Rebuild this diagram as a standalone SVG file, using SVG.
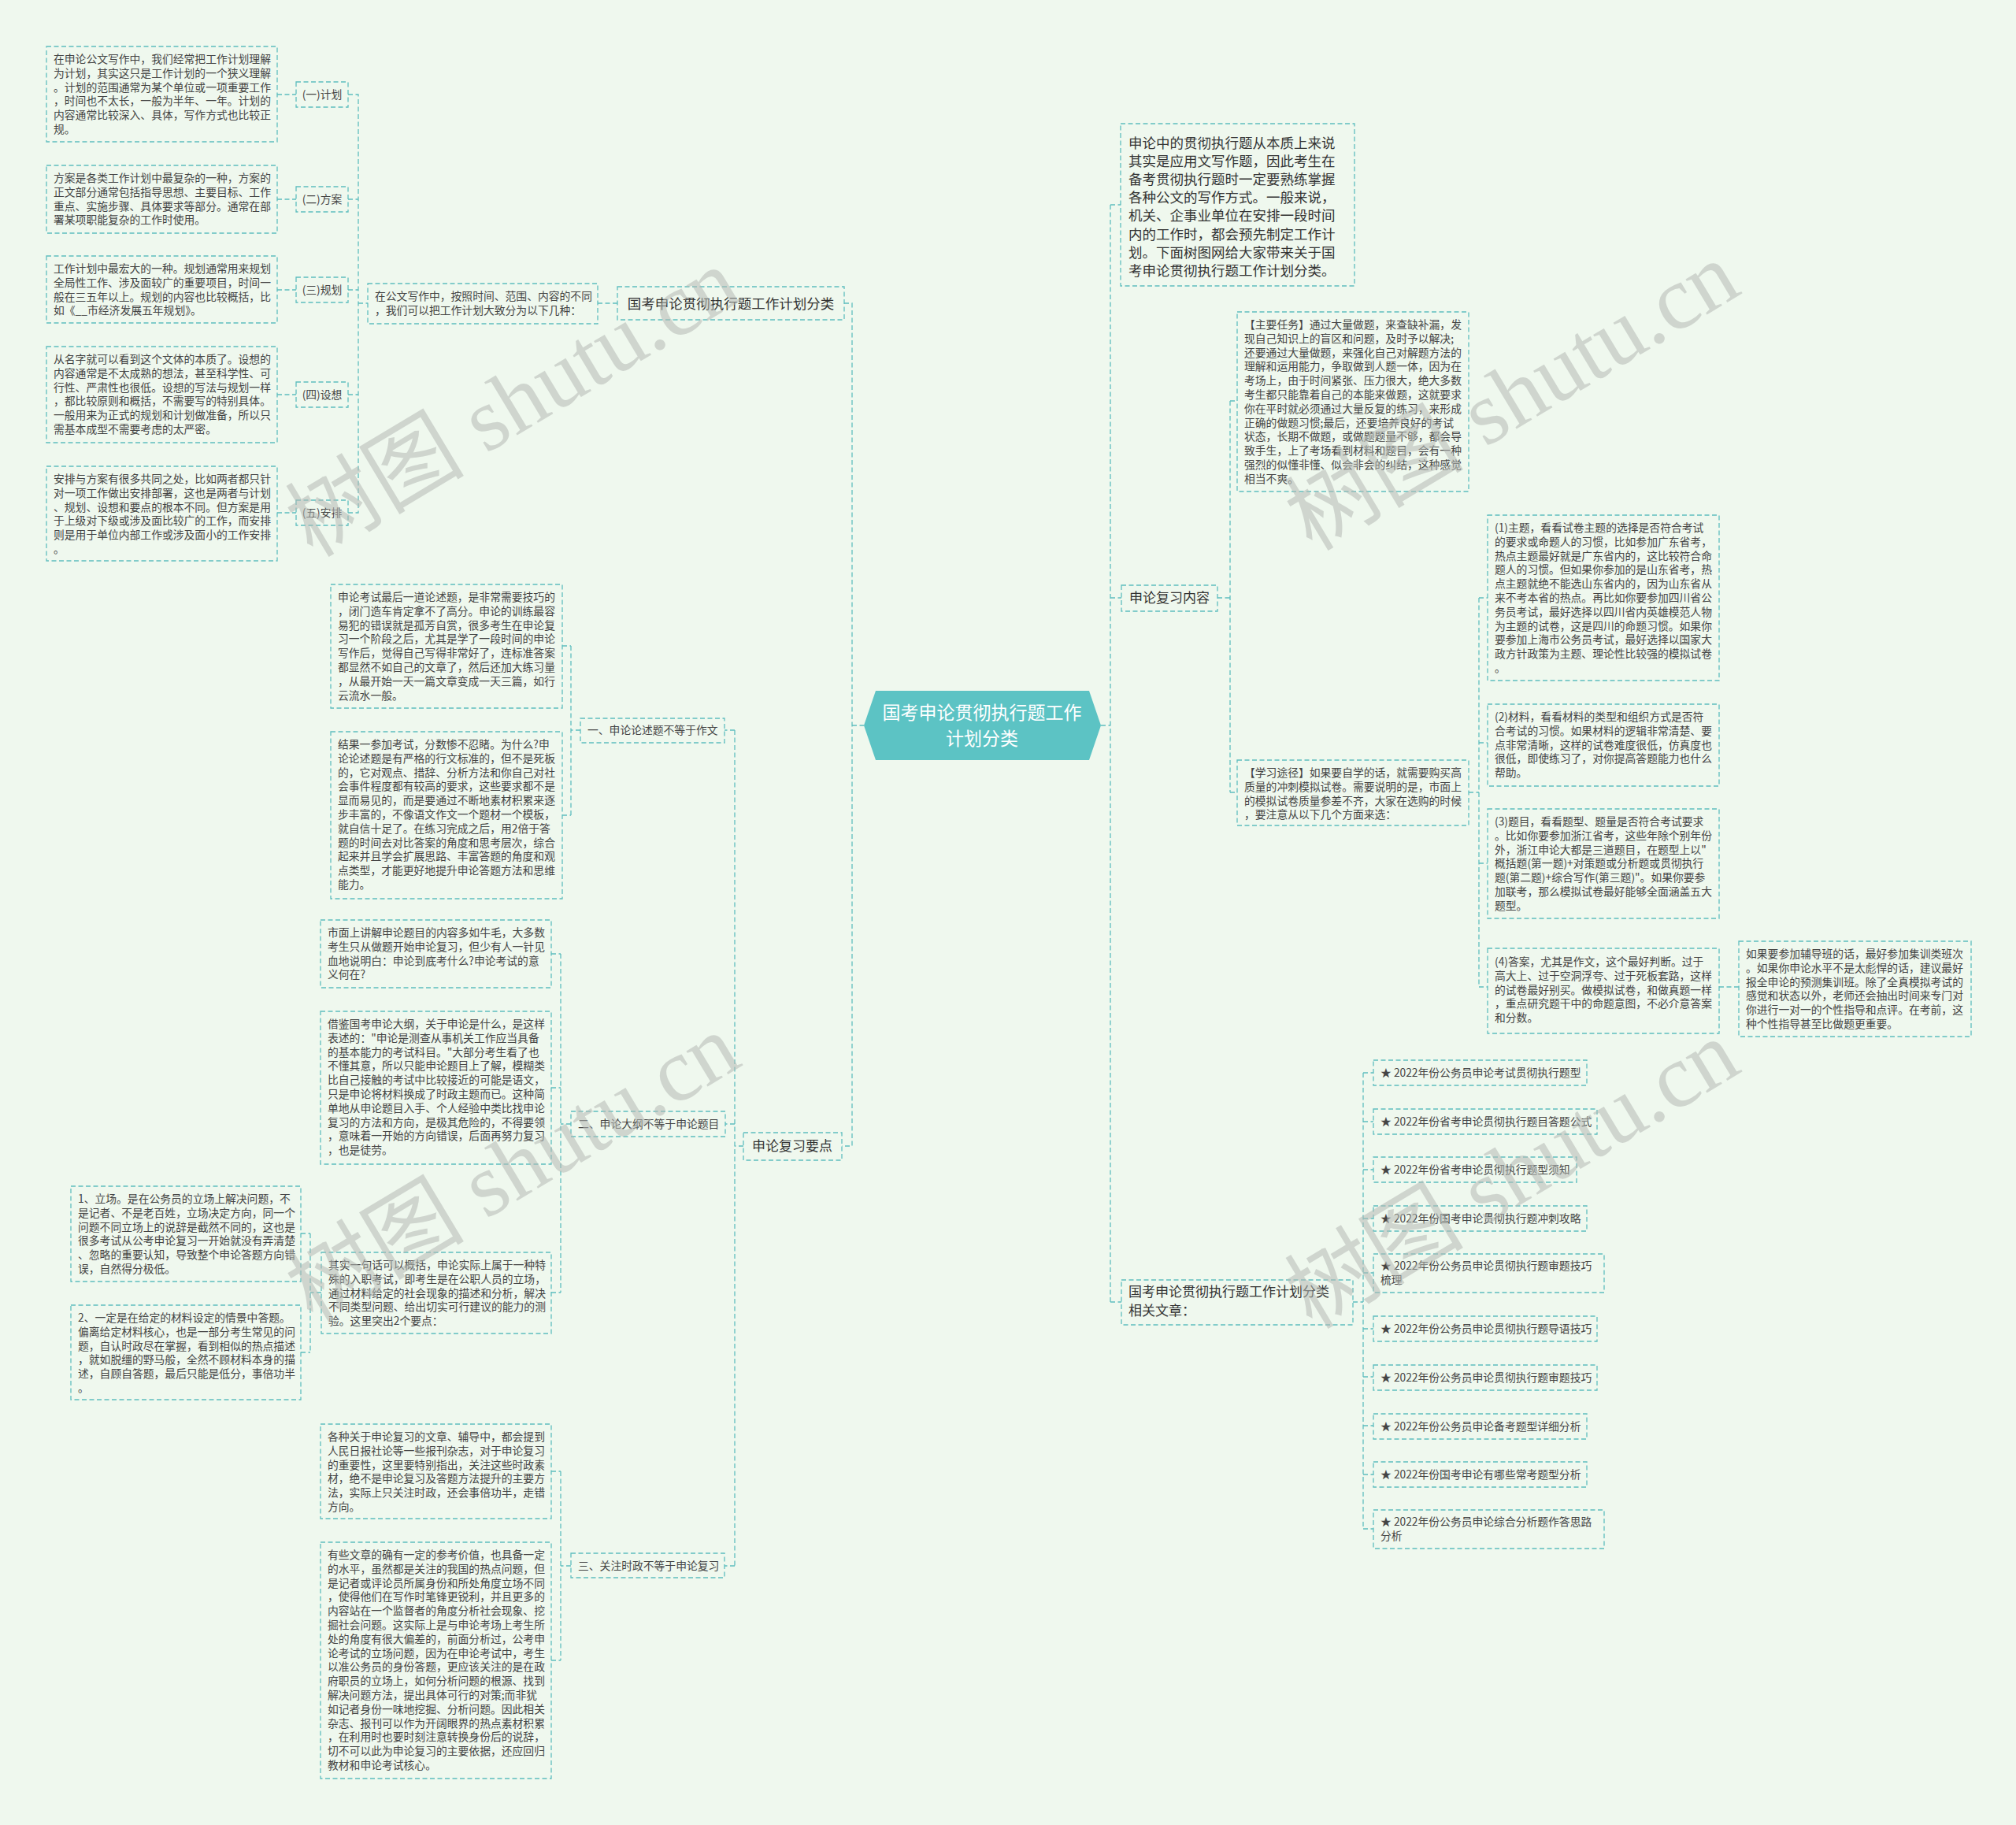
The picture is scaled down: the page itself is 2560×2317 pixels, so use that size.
<svg xmlns="http://www.w3.org/2000/svg" width="2560" height="2317" viewBox="0 0 2560 2317">
<style>
.bx{fill:none;stroke:#5fbdbf;stroke-width:1.3;stroke-dasharray:6 3.5}
.cn{fill:none;stroke:#5fbdbf;stroke-width:1.3;stroke-dasharray:6 3.5}
.t{font-family:"Noto Sans CJK SC","Noto Sans",sans-serif;font-size:13.8px;fill:#444}
.b{font-family:"Noto Sans CJK SC","Noto Sans",sans-serif;font-size:17.5px;fill:#333}
.m{text-anchor:middle}
.wm{font-family:"Liberation Serif","Noto Sans CJK SC",serif;font-size:114px;fill:#b5bab5;opacity:0.55;text-anchor:middle}
</style>
<rect width="2560" height="2317" fill="#eff8ee"/>

<g id="connectors">
<path class="cn" d="M352,120H376M352,253H376M352,368H376M352,501H376M352,651H376"/>
<path class="cn" d="M442,120H455V651H442M442,253H455M442,368H455M442,501H455M455,385H467"/>
<path class="cn" d="M759,385H784"/>
<path class="cn" d="M1072,385H1082V1455H1069M1082,921H1097"/>
<path class="cn" d="M944,1455H933M933,927V1988M933,927H920M933,1427H921M933,1988H920"/>
<path class="cn" d="M737,927H725M725,820V1035M714,820H725M714,1035H725"/>
<path class="cn" d="M725,1427H712M712,1211V1641M700,1211H712M700,1381H712M700,1641H712"/>
<path class="cn" d="M408,1641H394M394,1566V1717M382,1566H394M382,1717H394"/>
<path class="cn" d="M725,1988H712M712,1868V2108M700,1868H712M700,2108H712"/>
<path class="cn" d="M1398,921H1410M1410,260V1653M1410,260H1423M1410,759H1424M1410,1653H1424"/>
<path class="cn" d="M1546,759H1562M1562,509V1006M1562,509H1571M1562,1006H1571"/>
<path class="cn" d="M1865,1006H1878M1878,759V1253M1878,759H1889M1878,943H1889M1878,1096H1889M1878,1253H1889"/>
<path class="cn" d="M2183,1253H2208"/>
<path class="cn" d="M1718,1653H1731M1731,1362V1941M1731,1362H1744M1731,1424H1744M1731,1485H1744M1731,1547H1744M1731,1616H1744M1731,1687H1744M1731,1748H1744M1731,1810H1744M1731,1872H1744M1731,1941H1744"/>
</g>

<g id="center">
<polygon points="1097,921 1112,877 1383,877 1398,921 1383,965 1112,965" fill="#5cc3c4"/>
<text class="m" x="1247" y="913" style="font-family:'Noto Sans CJK SC',sans-serif;font-size:23px;fill:#fff">国考申论贯彻执行题工作</text>
<text class="m" x="1247" y="946" style="font-family:'Noto Sans CJK SC',sans-serif;font-size:23px;fill:#fff">计划分类</text>
</g>

<g id="n-fenlei">
<rect class="bx" x="784" y="364" width="288" height="42"/>
<text class="b m" x="928" y="392">国考申论贯彻执行题工作计划分类</text>
</g>

<g id="n-gongwen">
<rect class="bx" x="467" y="360" width="292" height="51"/>
<text class="t" x="476" y="381">在公文写作中，按照时间、范围、内容的不同<tspan x="476" dy="17.8">，我们可以把工作计划大致分为以下几种：</tspan></text>
</g>

<g id="l1"><rect class="bx" x="376" y="104" width="66" height="32"/><text class="t m" x="409" y="125">(一)计划</text></g>
<g id="l2"><rect class="bx" x="376" y="237" width="66" height="32"/><text class="t m" x="409" y="258">(二)方案</text></g>
<g id="l3"><rect class="bx" x="376" y="352" width="66" height="32"/><text class="t m" x="409" y="373">(三)规划</text></g>
<g id="l4"><rect class="bx" x="376" y="485" width="66" height="32"/><text class="t m" x="409" y="506">(四)设想</text></g>
<g id="l5"><rect class="bx" x="376" y="635" width="66" height="32"/><text class="t m" x="409" y="656">(五)安排</text></g>

<g id="bA">
<rect class="bx" x="59" y="59" width="293" height="121"/>
<text class="t" x="68" y="80">在申论公文写作中，我们经常把工作计划理解<tspan x="68" dy="17.8">为计划，其实这只是工作计划的一个狭义理解</tspan><tspan x="68" dy="17.8">。计划的范围通常为某个单位或一项重要工作</tspan><tspan x="68" dy="17.8">，时间也不太长，一般为半年、一年。计划的</tspan><tspan x="68" dy="17.8">内容通常比较深入、具体，写作方式也比较正</tspan><tspan x="68" dy="17.8">规。</tspan></text>
</g>
<g id="bB">
<rect class="bx" x="59" y="210" width="293" height="86"/>
<text class="t" x="68" y="231">方案是各类工作计划中最复杂的一种，方案的<tspan x="68" dy="17.8">正文部分通常包括指导思想、主要目标、工作</tspan><tspan x="68" dy="17.8">重点、实施步骤、具体要求等部分。通常在部</tspan><tspan x="68" dy="17.8">署某项职能复杂的工作时使用。</tspan></text>
</g>
<g id="bC">
<rect class="bx" x="59" y="325" width="293" height="85"/>
<text class="t" x="68" y="346">工作计划中最宏大的一种。规划通常用来规划<tspan x="68" dy="17.8">全局性工作、涉及面较广的重要项目，时间一</tspan><tspan x="68" dy="17.8">般在三五年以上。规划的内容也比较概括，比</tspan><tspan x="68" dy="17.8">如《__市经济发展五年规划》。</tspan></text>
</g>
<g id="bD">
<rect class="bx" x="59" y="440" width="293" height="122"/>
<text class="t" x="68" y="461">从名字就可以看到这个文体的本质了。设想的<tspan x="68" dy="17.8">内容通常是不太成熟的想法，甚至科学性、可</tspan><tspan x="68" dy="17.8">行性、严肃性也很低。设想的写法与规划一样</tspan><tspan x="68" dy="17.8">，都比较原则和概括，不需要写的特别具体。</tspan><tspan x="68" dy="17.8">一般用来为正式的规划和计划做准备，所以只</tspan><tspan x="68" dy="17.8">需基本成型不需要考虑的太严密。</tspan></text>
</g>
<g id="bE">
<rect class="bx" x="59" y="592" width="293" height="120"/>
<text class="t" x="68" y="613">安排与方案有很多共同之处，比如两者都只针<tspan x="68" dy="17.8">对一项工作做出安排部署，这也是两者与计划</tspan><tspan x="68" dy="17.8">、规划、设想和要点的根本不同。但方案是用</tspan><tspan x="68" dy="17.8">于上级对下级或涉及面比较广的工作，而安排</tspan><tspan x="68" dy="17.8">则是用于单位内部工作或涉及面小的工作安排</tspan><tspan x="68" dy="17.8">。</tspan></text>
</g>

<g id="n-yaodian">
<rect class="bx" x="944" y="1438" width="125" height="35"/>
<text class="b m" x="1006" y="1461" style="font-size:17px">申论复习要点</text>
</g>
<g id="s1"><rect class="bx" x="737" y="912" width="183" height="31"/><text class="t" x="746" y="932">一、申论论述题不等于作文</text></g>
<g id="s2"><rect class="bx" x="725" y="1411" width="196" height="32"/><text class="t" x="734" y="1432">二、申论大纲不等于申论题目</text></g>
<g id="s3"><rect class="bx" x="725" y="1972" width="195" height="31"/><text class="t" x="734" y="1993">三、关注时政不等于申论复习</text></g>

<g id="bF">
<rect class="bx" x="420" y="742" width="294" height="157"/>
<text class="t" x="429" y="763">申论考试最后一道论述题，是非常需要技巧的<tspan x="429" dy="17.8">，闭门造车肯定拿不了高分。申论的训练最容</tspan><tspan x="429" dy="17.8">易犯的错误就是孤芳自赏，很多考生在申论复</tspan><tspan x="429" dy="17.8">习一个阶段之后，尤其是学了一段时间的申论</tspan><tspan x="429" dy="17.8">写作后，觉得自己写得非常好了，连标准答案</tspan><tspan x="429" dy="17.8">都显然不如自己的文章了，然后还加大练习量</tspan><tspan x="429" dy="17.8">，从最开始一天一篇文章变成一天三篇，如行</tspan><tspan x="429" dy="17.8">云流水一般。</tspan></text>
</g>
<g id="bG">
<rect class="bx" x="420" y="929" width="294" height="212"/>
<text class="t" x="429" y="950">结果一参加考试，分数惨不忍睹。为什么?申<tspan x="429" dy="17.8">论论述题是有严格的行文标准的，但不是死板</tspan><tspan x="429" dy="17.8">的，它对观点、措辞、分析方法和你自己对社</tspan><tspan x="429" dy="17.8">会事件程度都有较高的要求，这些要求都不是</tspan><tspan x="429" dy="17.8">显而易见的，而是要通过不断地素材积累来逐</tspan><tspan x="429" dy="17.8">步丰富的，不像语文作文一个题材一个模板，</tspan><tspan x="429" dy="17.8">就自信十足了。在练习完成之后，用2倍于答</tspan><tspan x="429" dy="17.8">题的时间去对比答案的角度和思考层次，综合</tspan><tspan x="429" dy="17.8">起来并且学会扩展思路、丰富答题的角度和观</tspan><tspan x="429" dy="17.8">点类型，才能更好地提升申论答题方法和思维</tspan><tspan x="429" dy="17.8">能力。</tspan></text>
</g>
<g id="bH">
<rect class="bx" x="407" y="1168" width="293" height="86"/>
<text class="t" x="416" y="1189">市面上讲解申论题目的内容多如牛毛，大多数<tspan x="416" dy="17.8">考生只从做题开始申论复习，但少有人一针见</tspan><tspan x="416" dy="17.8">血地说明白：申论到底考什么?申论考试的意</tspan><tspan x="416" dy="17.8">义何在?</tspan></text>
</g>
<g id="bI">
<rect class="bx" x="407" y="1284" width="293" height="194"/>
<text class="t" x="416" y="1305">借鉴国考申论大纲，关于申论是什么，是这样<tspan x="416" dy="17.8">表述的："申论是测查从事机关工作应当具备</tspan><tspan x="416" dy="17.8">的基本能力的考试科目。"大部分考生看了也</tspan><tspan x="416" dy="17.8">不懂其意，所以只能申论题目上了解，模糊类</tspan><tspan x="416" dy="17.8">比自己接触的考试中比较接近的可能是语文，</tspan><tspan x="416" dy="17.8">只是申论将材料换成了时政主题而已。这种简</tspan><tspan x="416" dy="17.8">单地从申论题目入手、个人经验中类比找申论</tspan><tspan x="416" dy="17.8">复习的方法和方向，是极其危险的，不得要领</tspan><tspan x="416" dy="17.8">，意味着一开始的方向错误，后面再努力复习</tspan><tspan x="416" dy="17.8">，也是徒劳。</tspan></text>
</g>
<g id="bL">
<rect class="bx" x="408" y="1590" width="292" height="103"/>
<text class="t" x="417" y="1611">其实一句话可以概括，申论实际上属于一种特<tspan x="417" dy="17.8">殊的入职考试，即考生是在公职人员的立场，</tspan><tspan x="417" dy="17.8">通过材料给定的社会现象的描述和分析，解决</tspan><tspan x="417" dy="17.8">不同类型问题、给出切实可行建议的能力的测</tspan><tspan x="417" dy="17.8">验。这里突出2个要点：</tspan></text>
</g>
<g id="bJ">
<rect class="bx" x="90" y="1506" width="292" height="121"/>
<text class="t" x="99" y="1527">1、立场。是在公务员的立场上解决问题，不<tspan x="99" dy="17.8">是记者、不是老百姓，立场决定方向，同一个</tspan><tspan x="99" dy="17.8">问题不同立场上的说辞是截然不同的，这也是</tspan><tspan x="99" dy="17.8">很多考试从公考申论复习一开始就没有弄清楚</tspan><tspan x="99" dy="17.8">、忽略的重要认知，导致整个申论答题方向错</tspan><tspan x="99" dy="17.8">误，自然得分极低。</tspan></text>
</g>
<g id="bK">
<rect class="bx" x="90" y="1657" width="292" height="120"/>
<text class="t" x="99" y="1678">2、一定是在给定的材料设定的情景中答题。<tspan x="99" dy="17.8">偏离给定材料核心，也是一部分考生常见的问</tspan><tspan x="99" dy="17.8">题，自认时政尽在掌握，看到相似的热点描述</tspan><tspan x="99" dy="17.8">，就如脱缰的野马般，全然不顾材料本身的描</tspan><tspan x="99" dy="17.8">述，自顾自答题，最后只能是低分，事倍功半</tspan><tspan x="99" dy="17.8">。</tspan></text>
</g>
<g id="bM">
<rect class="bx" x="407" y="1808" width="293" height="120"/>
<text class="t" x="416" y="1829">各种关于申论复习的文章、辅导中，都会提到<tspan x="416" dy="17.8">人民日报社论等一些报刊杂志，对于申论复习</tspan><tspan x="416" dy="17.8">的重要性，这里要特别指出，关注这些时政素</tspan><tspan x="416" dy="17.8">材，绝不是申论复习及答题方法提升的主要方</tspan><tspan x="416" dy="17.8">法，实际上只关注时政，还会事倍功半，走错</tspan><tspan x="416" dy="17.8">方向。</tspan></text>
</g>
<g id="bN">
<rect class="bx" x="407" y="1958" width="293" height="300"/>
<text class="t" x="416" y="1979">有些文章的确有一定的参考价值，也具备一定<tspan x="416" dy="17.8">的水平，虽然都是关注的我国的热点问题，但</tspan><tspan x="416" dy="17.8">是记者或评论员所属身份和所处角度立场不同</tspan><tspan x="416" dy="17.8">，使得他们在写作时笔锋更锐利，并且更多的</tspan><tspan x="416" dy="17.8">内容站在一个监督者的角度分析社会现象、挖</tspan><tspan x="416" dy="17.8">掘社会问题。这实际上是与申论考场上考生所</tspan><tspan x="416" dy="17.8">处的角度有很大偏差的，前面分析过，公考申</tspan><tspan x="416" dy="17.8">论考试的立场问题，因为在申论考试中，考生</tspan><tspan x="416" dy="17.8">以准公务员的身份答题，更应该关注的是在政</tspan><tspan x="416" dy="17.8">府职员的立场上，如何分析问题的根源、找到</tspan><tspan x="416" dy="17.8">解决问题方法，提出具体可行的对策;而非犹</tspan><tspan x="416" dy="17.8">如记者身份一味地挖掘、分析问题。因此相关</tspan><tspan x="416" dy="17.8">杂志、报刊可以作为开阔眼界的热点素材积累</tspan><tspan x="416" dy="17.8">，在利用时也要时刻注意转换身份后的说辞，</tspan><tspan x="416" dy="17.8">切不可以此为申论复习的主要依据，还应回归</tspan><tspan x="416" dy="17.8">教材和申论考试核心。</tspan></text>
</g>

<g id="n-intro">
<rect class="bx" x="1423" y="157" width="297" height="206"/>
<text class="b" x="1433" y="188">申论中的贯彻执行题从本质上来说<tspan x="1433" dy="23.1">其实是应用文写作题，因此考生在</tspan><tspan x="1433" dy="23.1">备考贯彻执行题时一定要熟练掌握</tspan><tspan x="1433" dy="23.1">各种公文的写作方式。一般来说，</tspan><tspan x="1433" dy="23.1">机关、企事业单位在安排一段时间</tspan><tspan x="1433" dy="23.1">内的工作时，都会预先制定工作计</tspan><tspan x="1433" dy="23.1">划。下面树图网给大家带来关于国</tspan><tspan x="1433" dy="23.1">考申论贯彻执行题工作计划分类。</tspan></text>
</g>
<g id="n-neirong">
<rect class="bx" x="1424" y="743" width="122" height="33"/>
<text class="b m" x="1485" y="765" style="font-size:17px">申论复习内容</text>
</g>
<g id="bRW">
<rect class="bx" x="1571" y="396" width="294" height="228"/>
<text class="t" x="1580" y="417">【主要任务】通过大量做题，来查缺补漏，发<tspan x="1580" dy="17.8">现自己知识上的盲区和问题，及时予以解决;</tspan><tspan x="1580" dy="17.8">还要通过大量做题，来强化自己对解题方法的</tspan><tspan x="1580" dy="17.8">理解和运用能力，争取做到人题一体，因为在</tspan><tspan x="1580" dy="17.8">考场上，由于时间紧张、压力很大，绝大多数</tspan><tspan x="1580" dy="17.8">考生都只能靠着自己的本能来做题，这就要求</tspan><tspan x="1580" dy="17.8">你在平时就必须通过大量反复的练习，来形成</tspan><tspan x="1580" dy="17.8">正确的做题习惯;最后，还要培养良好的考试</tspan><tspan x="1580" dy="17.8">状态，长期不做题，或做题题量不够，都会导</tspan><tspan x="1580" dy="17.8">致手生，上了考场看到材料和题目，会有一种</tspan><tspan x="1580" dy="17.8">强烈的似懂非懂、似会非会的纠结，这种感觉</tspan><tspan x="1580" dy="17.8">相当不爽。</tspan></text>
</g>
<g id="bTJ">
<rect class="bx" x="1571" y="965" width="294" height="83"/>
<text class="t" x="1580" y="986">【学习途径】如果要自学的话，就需要购买高<tspan x="1580" dy="17.8">质量的冲刺模拟试卷。需要说明的是，市面上</tspan><tspan x="1580" dy="17.8">的模拟试卷质量参差不齐，大家在选购的时候</tspan><tspan x="1580" dy="17.8">，要注意从以下几个方面来选：</tspan></text>
</g>
<g id="bP1">
<rect class="bx" x="1889" y="654" width="294" height="210"/>
<text class="t" x="1898" y="675">(1)主题，看看试卷主题的选择是否符合考试<tspan x="1898" dy="17.8">的要求或命题人的习惯，比如参加广东省考，</tspan><tspan x="1898" dy="17.8">热点主题最好就是广东省内的，这比较符合命</tspan><tspan x="1898" dy="17.8">题人的习惯。但如果你参加的是山东省考，热</tspan><tspan x="1898" dy="17.8">点主题就绝不能选山东省内的，因为山东省从</tspan><tspan x="1898" dy="17.8">来不考本省的热点。再比如你要参加四川省公</tspan><tspan x="1898" dy="17.8">务员考试，最好选择以四川省内英雄模范人物</tspan><tspan x="1898" dy="17.8">为主题的试卷，这是四川的命题习惯。如果你</tspan><tspan x="1898" dy="17.8">要参加上海市公务员考试，最好选择以国家大</tspan><tspan x="1898" dy="17.8">政方针政策为主题、理论性比较强的模拟试卷</tspan><tspan x="1898" dy="17.8">。</tspan></text>
</g>
<g id="bP2">
<rect class="bx" x="1889" y="894" width="294" height="104"/>
<text class="t" x="1898" y="915">(2)材料，看看材料的类型和组织方式是否符<tspan x="1898" dy="17.8">合考试的习惯。如果材料的逻辑非常清楚、要</tspan><tspan x="1898" dy="17.8">点非常清晰，这样的试卷难度很低，仿真度也</tspan><tspan x="1898" dy="17.8">很低，即使练习了，对你提高答题能力也什么</tspan><tspan x="1898" dy="17.8">帮助。</tspan></text>
</g>
<g id="bP3">
<rect class="bx" x="1889" y="1027" width="294" height="139"/>
<text class="t" x="1898" y="1048">(3)题目，看看题型、题量是否符合考试要求<tspan x="1898" dy="17.8">。比如你要参加浙江省考，这些年除个别年份</tspan><tspan x="1898" dy="17.8">外，浙江申论大都是三道题目，在题型上以"</tspan><tspan x="1898" dy="17.8">概括题(第一题)+对策题或分析题或贯彻执行</tspan><tspan x="1898" dy="17.8">题(第二题)+综合写作(第三题)"。如果你要参</tspan><tspan x="1898" dy="17.8">加联考，那么模拟试卷最好能够全面涵盖五大</tspan><tspan x="1898" dy="17.8">题型。</tspan></text>
</g>
<g id="bP4">
<rect class="bx" x="1889" y="1204" width="294" height="108"/>
<text class="t" x="1898" y="1226">(4)答案，尤其是作文，这个最好判断。过于<tspan x="1898" dy="17.8">高大上、过于空洞浮夸、过于死板套路，这样</tspan><tspan x="1898" dy="17.8">的试卷最好别买。做模拟试卷，和做真题一样</tspan><tspan x="1898" dy="17.8">，重点研究题干中的命题意图，不必介意答案</tspan><tspan x="1898" dy="17.8">和分数。</tspan></text>
</g>
<g id="bFD">
<rect class="bx" x="2208" y="1195" width="295" height="121"/>
<text class="t" x="2217" y="1216">如果要参加辅导班的话，最好参加集训类班次<tspan x="2217" dy="17.8">。如果你申论水平不是太彪悍的话，建议最好</tspan><tspan x="2217" dy="17.8">报全申论的预测集训班。除了全真模拟考试的</tspan><tspan x="2217" dy="17.8">感觉和状态以外，老师还会抽出时间来专门对</tspan><tspan x="2217" dy="17.8">你进行一对一的个性指导和点评。在考前，这</tspan><tspan x="2217" dy="17.8">种个性指导甚至比做题更重要。</tspan></text>
</g>

<g id="n-xiangguan">
<rect class="bx" x="1424" y="1625" width="294" height="57"/>
<text class="b" x="1433" y="1646" style="font-size:17px">国考申论贯彻执行题工作计划分类<tspan x="1433" dy="24">相关文章：</tspan></text>
</g>
<g id="li1"><rect class="bx" x="1744" y="1346" width="271" height="32"/><text class="t" x="1753" y="1367">★ 2022年份公务员申论考试贯彻执行题型</text></g>
<g id="li2"><rect class="bx" x="1744" y="1408" width="284" height="32"/><text class="t" x="1753" y="1429">★ 2022年份省考申论贯彻执行题目答题公式</text></g>
<g id="li3"><rect class="bx" x="1744" y="1469" width="258" height="32"/><text class="t" x="1753" y="1490">★ 2022年份省考申论贯彻执行题型须知</text></g>
<g id="li4"><rect class="bx" x="1744" y="1531" width="271" height="32"/><text class="t" x="1753" y="1552">★ 2022年份国考申论贯彻执行题冲刺攻略</text></g>
<g id="li5"><rect class="bx" x="1744" y="1592" width="293" height="49"/><text class="t" x="1753" y="1612">★ 2022年份公务员申论贯彻执行题审题技巧<tspan x="1753" dy="17.8">梳理</tspan></text></g>
<g id="li6"><rect class="bx" x="1744" y="1671" width="284" height="32"/><text class="t" x="1753" y="1692">★ 2022年份公务员申论贯彻执行题导语技巧</text></g>
<g id="li7"><rect class="bx" x="1744" y="1733" width="284" height="32"/><text class="t" x="1753" y="1754">★ 2022年份公务员申论贯彻执行题审题技巧</text></g>
<g id="li8"><rect class="bx" x="1744" y="1795" width="271" height="32"/><text class="t" x="1753" y="1816">★ 2022年份公务员申论备考题型详细分析</text></g>
<g id="li9"><rect class="bx" x="1744" y="1856" width="271" height="32"/><text class="t" x="1753" y="1877">★ 2022年份国考申论有哪些常考题型分析</text></g>
<g id="li10"><rect class="bx" x="1744" y="1917" width="293" height="49"/><text class="t" x="1753" y="1937">★ 2022年份公务员申论综合分析题作答思路<tspan x="1753" dy="17.8">分析</tspan></text></g>

<g id="watermarks">
<text class="wm" x="653" y="549" transform="rotate(-31 653 514)">树图 shutu.cn</text>
<text class="wm" x="1922" y="541" transform="rotate(-31 1922 506)">树图 shutu.cn</text>
<text class="wm" x="653" y="1521" transform="rotate(-31 653 1486)">树图 shutu.cn</text>
<text class="wm" x="1922" y="1529" transform="rotate(-31 1922 1494)">树图 shutu.cn</text>
</g>
</svg>
